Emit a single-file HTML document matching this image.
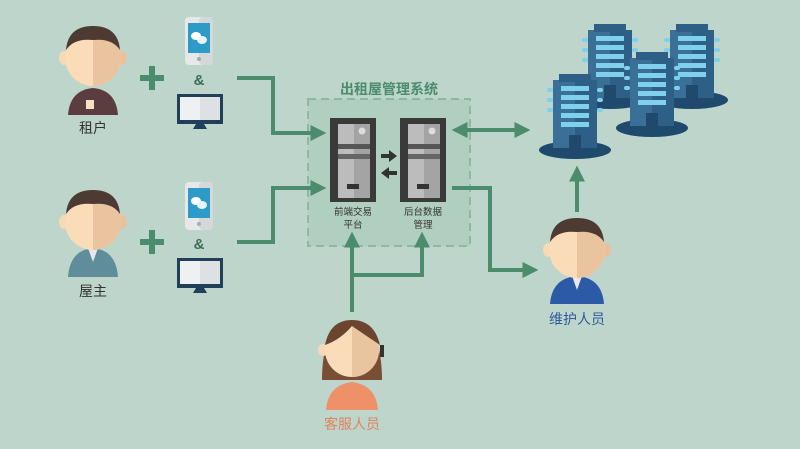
<!DOCTYPE html>
<html><head><meta charset="utf-8"><style>
html,body{margin:0;padding:0;background:#bdd5cb;}
svg{display:block;font-family:"Liberation Sans","Noto Sans CJK SC",sans-serif;}
</style></head><body>
<svg width="800" height="449" viewBox="0 0 800 449">
<defs>
<marker id="ah" viewBox="0 0 10 10" refX="6" refY="5" markerWidth="4" markerHeight="4" orient="auto-start-reverse"><path d="M0,0L10,5L0,10z" fill="#4a8c6c"/></marker>
<g id="phone"><rect x="0" y="0" width="28" height="48" rx="4" fill="#e6e8ea"/><rect x="14" y="0" width="14" height="48" rx="4" fill="#d5d8db"/><rect x="3" y="6" width="22" height="30" fill="#2d9bc8"/><ellipse cx="11" cy="19" rx="5" ry="4" fill="#fff"/><ellipse cx="17" cy="23" rx="5" ry="4" fill="#e8f4fa"/><circle cx="14" cy="42" r="2" fill="#aaa"/></g>
<g id="mon"><rect x="0" y="0" width="46" height="30" fill="#1f3f5a"/><rect x="3" y="3" width="40" height="23" fill="#eef0f1"/><rect x="23" y="3" width="20" height="23" fill="#dde1e3"/><path d="M19,30h8l3,5h-14z" fill="#1f3f5a"/></g>
<g id="srv"><rect x="0" y="0" width="46" height="84" fill="#3a3a3a"/><rect x="8" y="6" width="32" height="74" fill="#bcbcbc"/><rect x="24" y="6" width="16" height="74" fill="#a4a4a4"/><rect x="8" y="26" width="32" height="5" fill="#555"/><rect x="8" y="36" width="32" height="5" fill="#666"/><circle cx="32" cy="13" r="3.5" fill="#ddd"/><rect x="17" y="66" width="12" height="5" fill="#333"/></g>
<g id="bld"><ellipse cx="0" cy="0" rx="36" ry="9" fill="#1f4a6e"/><rect x="-22" y="-70" width="44" height="68" fill="#3a6f98"/><rect x="0" y="-70" width="22" height="68" fill="#2e5f86"/><rect x="-16" y="-76" width="32" height="8" fill="#2e5f86"/><rect x="-14" y="-64" width="28" height="5" fill="#7fd0ea"/><rect x="-14" y="-55" width="28" height="5" fill="#7fd0ea"/><rect x="-14" y="-46" width="28" height="5" fill="#7fd0ea"/><rect x="-14" y="-37" width="28" height="5" fill="#7fd0ea"/><rect x="-14" y="-28" width="28" height="5" fill="#7fd0ea"/><rect x="-28" y="-62" width="6" height="4" rx="2" fill="#7fd0ea"/><rect x="-28" y="-52" width="6" height="4" rx="2" fill="#7fd0ea"/><rect x="-28" y="-42" width="6" height="4" rx="2" fill="#7fd0ea"/><rect x="22" y="-62" width="6" height="4" rx="2" fill="#7fd0ea"/><rect x="22" y="-52" width="6" height="4" rx="2" fill="#7fd0ea"/><rect x="22" y="-42" width="6" height="4" rx="2" fill="#7fd0ea"/><rect x="-6" y="-15" width="12" height="13" fill="#1f4a6e"/></g>
</defs>

<!-- system box (behind arrows) -->
<rect x="308" y="99" width="162" height="147" fill="#a9cbb9" fill-opacity="0.6" stroke="#8fb8a1" stroke-width="2" stroke-dasharray="8,5"/>
<text x="389" y="94" font-size="14" font-weight="bold" fill="#4a8c6c" text-anchor="middle">出租屋管理系统</text>

<!-- tenant -->
<path d="M68,115 Q70,90 93,88 Q116,90 118,115z" fill="#5b3d3f"/>
<rect x="86" y="100" width="8" height="9" fill="#f6e2c0"/>
<ellipse cx="64" cy="58" rx="5" ry="7" fill="#f8d9b5"/><ellipse cx="122" cy="58" rx="5" ry="7" fill="#e8c29c"/>
<circle cx="93" cy="58" r="28" fill="#fadcb8"/><path d="M93,30a28,28 0 0 1 0,56z" fill="#eac49f"/>
<path d="M66,50 Q68,26 93,26 Q118,26 120,50 Q112,38 93,40 Q74,38 66,50z" fill="#4d3a32"/>
<text x="93" y="133" font-size="14" fill="#333" text-anchor="middle">租户</text>
<!-- owner -->
<path d="M68,277 Q70,250 93,248 Q116,250 118,277z" fill="#5f8e9a"/>
<path d="M88,248 L93,262 L98,248z" fill="#e8e8e8"/>
<ellipse cx="64" cy="222" rx="5" ry="7" fill="#f8d9b5"/><ellipse cx="122" cy="222" rx="5" ry="7" fill="#e8c29c"/>
<circle cx="93" cy="222" r="28" fill="#fadcb8"/><path d="M93,194a28,28 0 0 1 0,56z" fill="#eac49f"/>
<path d="M66,214 Q68,190 93,190 Q118,190 120,214 Q112,202 93,204 Q74,202 66,214z" fill="#4d3a32"/>
<text x="93" y="296" font-size="14" fill="#333" text-anchor="middle">屋主</text>

<g fill="#4a8c6c"><rect x="140" y="75" width="24" height="6"/><rect x="149" y="66" width="6" height="24"/><rect x="140" y="239" width="24" height="6"/><rect x="149" y="230" width="6" height="24"/></g>
<use href="#phone" x="185" y="17"/><use href="#phone" x="185" y="182"/>
<text x="199" y="85" font-size="15" font-weight="bold" fill="#3d6e55" text-anchor="middle">&amp;</text>
<text x="199" y="249" font-size="15" font-weight="bold" fill="#3d6e55" text-anchor="middle">&amp;</text>
<use href="#mon" x="177" y="94"/><use href="#mon" x="177" y="258"/>

<g stroke="#4a8c6c" stroke-width="4" fill="none">
<path d="M237,78H273V133H320" marker-end="url(#ah)"/>
<path d="M237,242H273V188H320" marker-end="url(#ah)"/>
<path d="M458,130H524" marker-start="url(#ah)" marker-end="url(#ah)"/>
<path d="M452,188H490V270H532" marker-end="url(#ah)"/>
<path d="M577,212V172" marker-end="url(#ah)"/>
<path d="M352,312V238" marker-end="url(#ah)"/>
<path d="M352,275H422V238" marker-end="url(#ah)"/>
</g>

<use href="#srv" x="330" y="118"/><use href="#srv" x="400" y="118"/>
<path d="M381,154h8v-4l8,6l-8,6v-4h-8z" fill="#333"/>
<path d="M397,171h-8v-4l-8,6l8,6v-4h8z" fill="#333"/>
<g font-size="9.5" fill="#333" text-anchor="middle"><text x="353" y="215">前端交易</text><text x="353" y="228">平台</text><text x="423" y="215">后台数据</text><text x="423" y="228">管理</text></g>

<!-- buildings -->
<use href="#bld" x="610" y="100"/><use href="#bld" x="692" y="100"/><use href="#bld" x="652" y="128"/><use href="#bld" x="575" y="150"/>

<!-- maintenance -->
<path d="M550,304 Q552,278 577,276 Q602,278 604,304z" fill="#2d5aa6"/>
<path d="M572,276 L577,290 L582,276z" fill="#e8e8e8"/>
<ellipse cx="548" cy="250" rx="5" ry="7" fill="#f8d9b5"/><ellipse cx="606" cy="250" rx="5" ry="7" fill="#e8c29c"/>
<circle cx="577" cy="250" r="28" fill="#fadcb8"/><path d="M577,222a28,28 0 0 1 0,56z" fill="#eac49f"/>
<path d="M550,242 Q552,218 577,218 Q602,218 604,242 Q596,230 577,232 Q558,230 550,242z" fill="#4d3a32"/>
<text x="577" y="324" font-size="14" fill="#2e5a9c" text-anchor="middle">维护人员</text>

<!-- service -->
<path d="M322,380 Q322,325 352,320 Q382,325 382,380z" fill="#7a4e35"/>
<path d="M326,410 Q328,385 352,382 Q376,385 378,410z" fill="#ee9068"/>
<ellipse cx="323" cy="350" rx="5" ry="6" fill="#f8d9b5"/>
<circle cx="352" cy="350" r="27" fill="#fadcb8"/><path d="M352,323a27,27 0 0 1 0,54z" fill="#eac49f"/>
<path d="M325,345 Q330,320 352,320 Q374,320 380,345 Q365,335 352,326 Q340,340 325,345z" fill="#6b4530"/>
<rect x="380" y="345" width="4" height="12" fill="#333"/>
<text x="352" y="429" font-size="14" fill="#e0845e" text-anchor="middle">客服人员</text>
</svg>
</body></html>
